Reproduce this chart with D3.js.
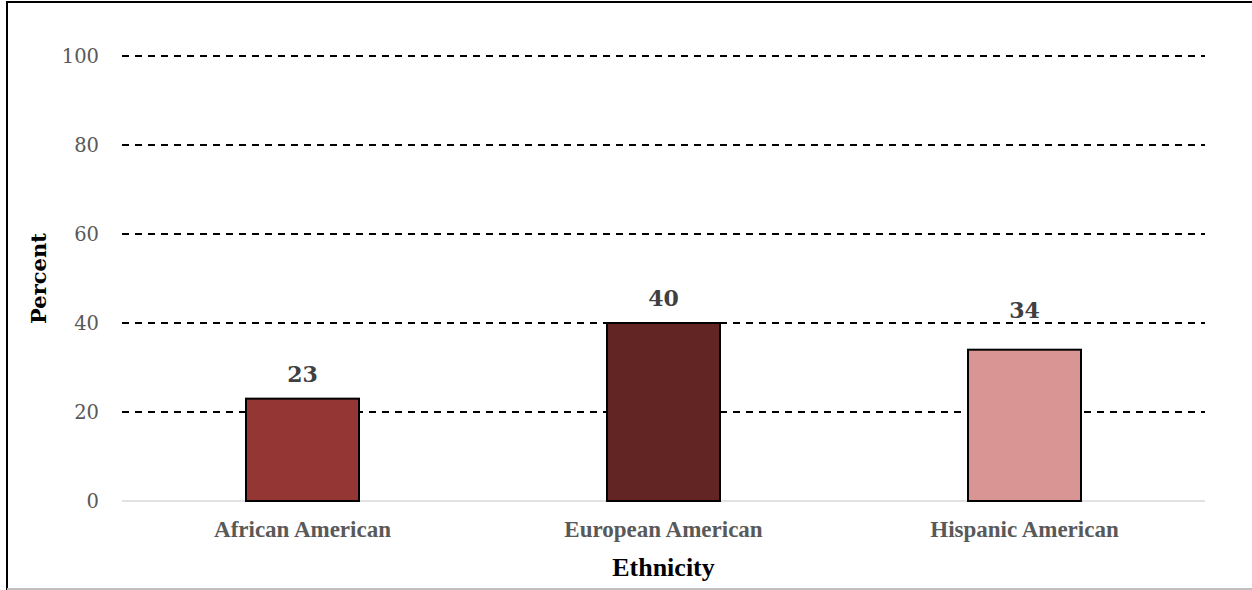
<!DOCTYPE html>
<html>
<head>
<meta charset="utf-8">
<script src="https://cdn.jsdelivr.net/npm/d3@7"></script>
<style>
  body { margin: 0; background: #fff; }
</style>
</head>
<body>
<div id="chart"></div>
<script>
const categories = ["African American", "European American", "Hispanic American"];
const values = [23, 40, 34];
const colors = ["#943634", "#632523", "#D99594"];
const yTicks = [0, 20, 40, 60, 80, 100];

const width = 1252, height = 590,
    margin = ({ top: 56, right: 47, bottom: 89, left: 122 });

const svg = d3.select("#chart")
    .append("svg")
    .attr("width", width)
    .attr("height", height);

// frame (cropped on the right)
svg.append("path")
    .attr("d", `M7,${height} V2 H${width}`)
    .attr("fill", "none")
    .attr("stroke", "#000")
    .attr("stroke-width", 2);
svg.append("line")
    .attr("x1", 7).attr("x2", width)
    .attr("y1", height - 1).attr("y2", height - 1)
    .attr("stroke", "#bfbfbf")
    .attr("stroke-width", 2);

const x = d3.scaleBand()
    .domain(categories)
    .range([margin.left, width - margin.right])
    .paddingInner(0.687)
    .paddingOuter(0.3435);

const y = d3.scaleLinear()
    .domain([0, 100])
    .range([height - margin.bottom, margin.top]);

// gridlines
svg.append("g")
    .selectAll("line")
    .data(yTicks.filter(d => d > 0))
    .join("line")
    .attr("x1", margin.left)
    .attr("x2", width - margin.right)
    .attr("y1", d => y(d))
    .attr("y2", d => y(d))
    .attr("stroke", "#000")
    .attr("stroke-width", 2)
    .attr("stroke-dasharray", "7,6");

// zero line
svg.append("line")
    .attr("x1", margin.left)
    .attr("x2", width - margin.right)
    .attr("y1", y(0))
    .attr("y2", y(0))
    .attr("stroke", "#d9d9d9")
    .attr("stroke-width", 1.5);

// y tick labels
svg.append("g")
    .attr("font-family", "'DejaVu Serif', serif")
    .attr("font-size", 19.5)
    .attr("fill", "#595959")
    .attr("text-anchor", "end")
    .selectAll("text")
    .data(yTicks)
    .join("text")
    .attr("x", 99)
    .attr("y", d => y(d))
    .attr("dy", "0.36em")
    .text(d => d);

// bars
svg.append("g")
    .selectAll("rect")
    .data(values)
    .join("rect")
    .attr("x", (d, i) => x(categories[i]))
    .attr("y", d => y(d))
    .attr("width", x.bandwidth())
    .attr("height", d => y(0) - y(d))
    .attr("fill", (d, i) => colors[i])
    .attr("stroke", "#000")
    .attr("stroke-width", 2);

// value labels, nudged above a gridline if they would sit on it
function labelY(d) {
    const base = y(d) - 17;
    const hit = yTicks.find(t => t > 0 && y(t) > base - 18 && y(t) < base + 3);
    return hit === undefined ? base : y(hit) - 5;
}

svg.append("g")
    .attr("font-family", "'DejaVu Serif', serif")
    .attr("font-size", 22)
    .attr("font-weight", "bold")
    .attr("fill", "#404040")
    .attr("text-anchor", "middle")
    .selectAll("text")
    .data(values)
    .join("text")
    .attr("x", (d, i) => x(categories[i]) + x.bandwidth() / 2)
    .attr("y", d => labelY(d))
    .text(d => d);

// category labels
svg.append("g")
    .attr("font-family", "'Liberation Serif', 'Times New Roman', serif")
    .attr("font-size", 23)
    .attr("font-weight", "bold")
    .attr("fill", "#595959")
    .attr("text-anchor", "middle")
    .selectAll("text")
    .data(categories)
    .join("text")
    .attr("x", d => x(d) + x.bandwidth() / 2)
    .attr("y", 537)
    .text(d => d);

// axis titles
svg.append("text")
    .attr("x", (margin.left + width - margin.right) / 2)
    .attr("y", 576)
    .attr("text-anchor", "middle")
    .attr("font-family", "'Liberation Serif', 'Times New Roman', serif")
    .attr("font-size", 26)
    .attr("font-weight", "bold")
    .attr("fill", "#000")
    .text("Ethnicity");

svg.append("text")
    .attr("transform", `translate(46,${(y(0) + y(100)) / 2}) rotate(-90)`)
    .attr("text-anchor", "middle")
    .attr("font-family", "'DejaVu Serif', serif")
    .attr("font-size", 21)
    .attr("font-weight", "bold")
    .attr("fill", "#000")
    .text("Percent");
</script>
</body>
</html>
